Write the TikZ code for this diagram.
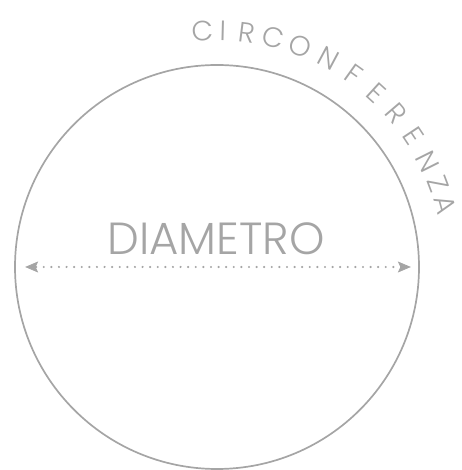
\documentclass[tikz,border=0pt]{standalone}
\usepackage{fontspec}
\setmainfont{Poppins}[UprightFont={* Light}]
\usepackage{tikz}
\usetikzlibrary{positioning,arrows.meta,calc}
\usepackage{xcolor}
\definecolor{softgray}{RGB}{165,165,165}
\tikzset{
  every circle node/.style={draw=softgray, line width=1.7pt},
  >=Stealth,
}

\begin{document}
\begin{tikzpicture}[
  x=1pt, y=1pt,
  dotline/.style={draw=softgray, line width=2.4pt, line cap=round,
    dash pattern=on 0pt off 7.6pt},
  tipgray/.style={-{Stealth[length=13pt,width=11pt,fill=softgray,inset=2.5pt]}},
  arcletter/.style={text=softgray, inner sep=0pt, anchor=center,
    font=\fontsize{28}{28}\selectfont},
]
\useasboundingbox (0,0) rectangle (461,470);

\node[circle, minimum size=404pt, inner sep=0pt] (circ) at (217,203) {};

\coordinate[right=11pt of circ.west] (dl);
\coordinate[left=9pt of circ.east] (dr);
\node[text=softgray, font=\fontsize{45}{45}\selectfont, anchor=base] (diam) at (216,215) {DIAMETRO};

\draw[dotline, shorten <=11pt, shorten >=11pt] (dl) -- (dr);
\draw[tipgray, draw=softgray, line width=0.8pt] ($(dl)+(10pt,0)$) -- (dl);
\draw[tipgray, draw=softgray, line width=0.8pt] ($(dr)-(10pt,0)$) -- (dr);

% scritta lungo l'arco, lettera per lettera
\foreach \ch/\ang [count=\i] in {C/93.4, I/88.6, R/82.7, C/76.1, O/69.4, N/61.9,
    F/54.5, E/47.6, R/40.6, E/33.6, N/26.6, Z/20.6, A/15.2}
  \node[arcletter, rotate=\ang-90] (let\i) at ($(circ.center)+(\ang:236pt)$) {\ch};

\end{tikzpicture}
\end{document}
